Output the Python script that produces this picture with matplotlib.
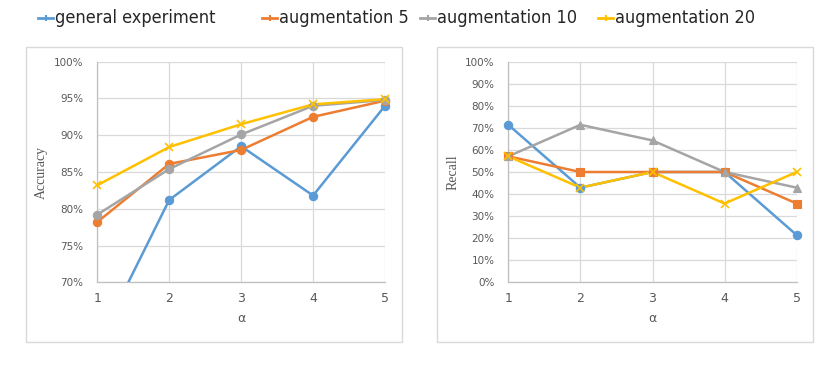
import matplotlib
matplotlib.use("Agg")
import numpy as np
import matplotlib.pyplot as plt
from matplotlib.patches import Rectangle
from matplotlib.lines import Line2D
from matplotlib.ticker import FuncFormatter

alpha = [1, 2, 3, 4, 5]
series_names = ["general experiment", "augmentation 5", "augmentation 10", "augmentation 20"]
colors = ["#5B9BD5", "#ED7D31", "#A5A5A5", "#FFC000"]

acc_general = [61.5, 81.2, 88.5, 81.8, 94.0]
acc_aug5 = [78.2, 86.1, 88.0, 92.5, 94.7]
acc_aug10 = [79.2, 85.4, 90.1, 94.0, 94.8]
acc_aug20 = [83.2, 88.4, 91.5, 94.2, 94.9]

rec_general = [71.4, 42.9, 50.0, 50.0, 21.4]
rec_aug5 = [57.1, 50.0, 50.0, 50.0, 35.7]
rec_aug10 = [57.1, 71.4, 64.3, 50.0, 42.9]
rec_aug20 = [57.1, 42.9, 50.0, 35.7, 50.0]

acc_ticks = [70, 75, 80, 85, 90, 95, 100]
rec_ticks = [0, 10, 20, 30, 40, 50, 60, 70, 80, 90, 100]

W, H = 836, 369
fig = plt.figure(figsize=(W / 100, H / 100), dpi=100)
fig.patch.set_facecolor("white")

def frac_rect(x0, y0, x1, y1):
    return [x0 / W, 1 - y1 / H, (x1 - x0) / W, (y1 - y0) / H]

# outer boxes
for bx in [(26, 47, 402, 342), (437, 47, 813, 342)]:
    r = frac_rect(*bx)
    fig.patches.append(Rectangle((r[0], r[1]), r[2], r[3], transform=fig.transFigure,
                                 facecolor="none", edgecolor="#d9d9d9", lw=1.0, zorder=-1))

pct = FuncFormatter(lambda v, p: f"{v:.0f}%")

def style_axes(ax, ticks, ylabel):
    ax.set_xlim(1, 5)
    ax.set_ylim(ticks[0], ticks[-1])
    ax.set_yticks(ticks)
    ax.set_xticks(alpha)
    ax.yaxis.set_major_formatter(pct)
    ax.grid(True, color="#d9d9d9", lw=0.9)
    ax.set_axisbelow(True)
    for s in ["top", "right"]:
        ax.spines[s].set_visible(False)
    for s in ["left", "bottom"]:
        ax.spines[s].set_color("#bfbfbf")
        ax.spines[s].set_linewidth(0.9)
    ax.tick_params(axis="both", length=0, colors="#595959")
    ax.tick_params(axis="y", labelsize=7.5, pad=10)
    ax.tick_params(axis="x", labelsize=9, pad=7)
    for lab in ax.get_xticklabels() + ax.get_yticklabels():
        lab.set_family("DejaVu Sans")
    ax.set_xlabel("α", fontsize=9, color="#595959", labelpad=5)
    ax.set_ylabel(ylabel, fontsize=10, color="#595959", family="Liberation Serif", labelpad=4)
    ax.set_facecolor("none")

def draw(ax, series, markers, ylo, yhi):
    for vals, c, m in zip(series, colors, markers):
        ax.plot(alpha, vals, color=c, lw=1.8, zorder=3)
        v = np.array(vals, dtype=float)
        x = np.array(alpha, dtype=float)
        inside = (v >= ylo) & (v <= yhi)
        ax.plot(x[inside], v[inside], ls="none", marker=m, markersize=6, color=c,
                markeredgecolor=c, markeredgewidth=1.2 if m == "x" else 0.8,
                clip_on=False, zorder=4)

axL = fig.add_axes(frac_rect(97.3, 61.7, 385, 282.3))
axR = fig.add_axes(frac_rect(508.3, 61.7, 796.7, 282.3))

draw(axL, [acc_general, acc_aug5, acc_aug10, acc_aug20], ["o", "o", "o", "x"],
     acc_ticks[0], acc_ticks[-1])
style_axes(axL, acc_ticks, "Accuracy")

draw(axR, [rec_general, rec_aug5, rec_aug10, rec_aug20], ["o", "s", "^", "x"],
     rec_ticks[0], rec_ticks[-1])
style_axes(axR, rec_ticks, "Recall")

# legend (manual, positioned like the reference)
leg_x = [38, 262, 420, 598]
leg_y = 1 - 18 / H
for x, c, name in zip(leg_x, colors, series_names):
    fig.add_artist(Line2D([x / W, (x + 15) / W], [leg_y, leg_y], transform=fig.transFigure,
                          color=c, lw=2))
    fig.add_artist(Line2D([(x + 7.5) / W], [leg_y], transform=fig.transFigure, color=c,
                          marker="|", markersize=5, markeredgewidth=1.5))
    fig.text((x + 17) / W, leg_y, name, ha="left", va="center", fontsize=13,
             family="DejaVu Sans", fontstretch="condensed", color="#262626")

fig.savefig("out.png", dpi=100, facecolor="white")
